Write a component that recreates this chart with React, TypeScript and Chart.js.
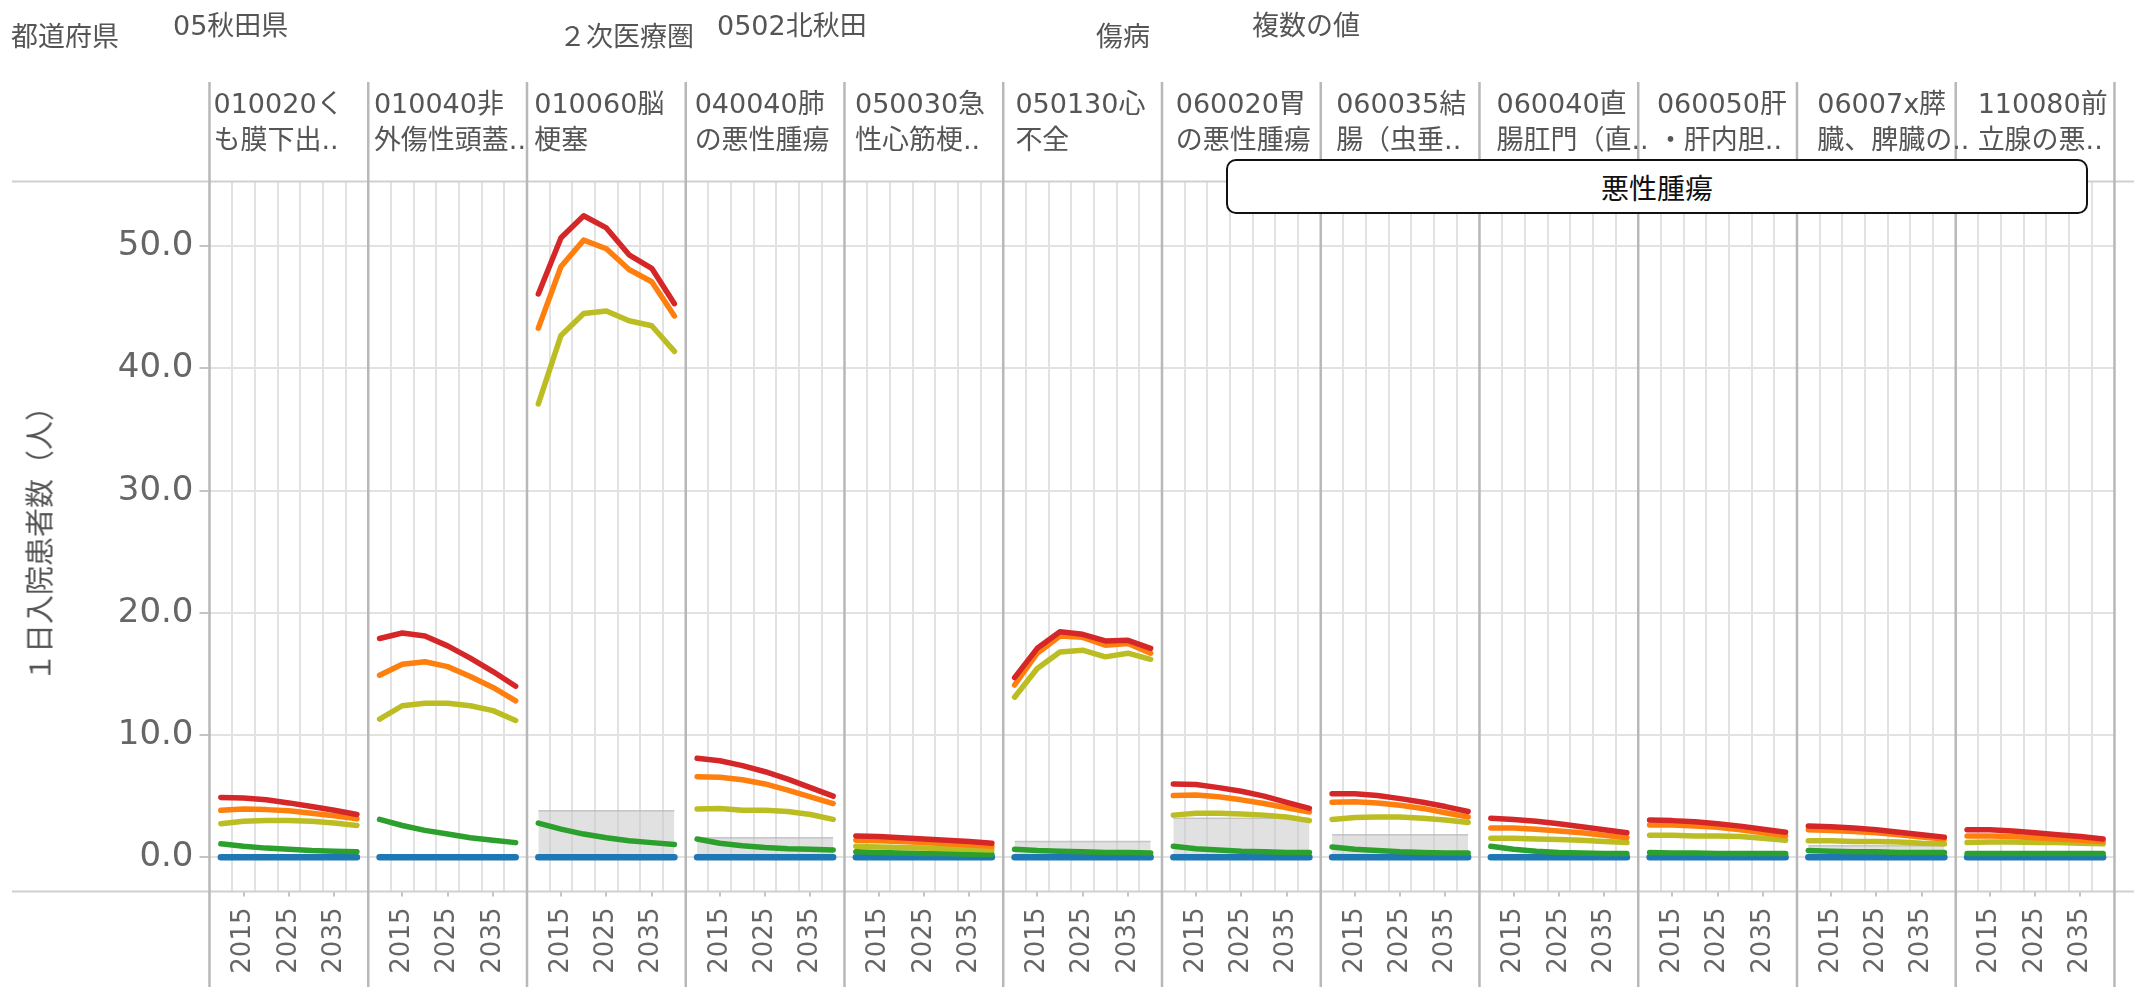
import React, { useEffect, useRef } from "react";
import { Chart, registerables } from "chart.js";

Chart.register(...registerables);

// ---------- data ----------
const years = [2010, 2015, 2020, 2025, 2030, 2035, 2040];
const labelYears = [2015, 2025, 2035];
const yTickValues = [0, 10, 20, 30, 40, 50];

const panelLine1 = [
  "010020く", "010040非", "010060脳", "040040肺", "050030急", "050130心",
  "060020胃", "060035結", "060040直", "060050肝", "06007x膵", "110080前",
];
const panelLine2 = [
  "も膜下出..", "外傷性頭蓋..", "梗塞", "の悪性腫瘍", "性心筋梗..", "不全",
  "の悪性腫瘍", "腸（虫垂..", "腸肛門（直..", "・肝内胆..", "臓、脾臓の..", "立腺の悪..",
];

const redValues = [
  [4.9, 4.85, 4.7, 4.45, 4.15, 3.85, 3.5],
  [17.9, 18.35, 18.1, 17.3, 16.3, 15.2, 14.0],
  [46.1, 50.7, 52.5, 51.5, 49.3, 48.2, 45.3],
  [8.1, 7.9, 7.5, 7.0, 6.4, 5.7, 5.0],
  [1.75, 1.7, 1.6, 1.5, 1.4, 1.3, 1.15],
  [14.7, 17.1, 18.45, 18.25, 17.7, 17.75, 17.1],
  [6.0, 5.95, 5.7, 5.4, 5.0, 4.5, 4.0],
  [5.2, 5.2, 5.05, 4.8, 4.5, 4.15, 3.75],
  [3.2, 3.1, 2.95, 2.75, 2.5, 2.25, 2.0],
  [3.05, 3.0, 2.9, 2.75, 2.55, 2.3, 2.05],
  [2.55, 2.5, 2.4, 2.25, 2.05, 1.85, 1.65],
  [2.25, 2.25, 2.15, 2.0, 1.85, 1.7, 1.5],
];
const orangeValues = [
  [3.85, 3.95, 3.9, 3.8, 3.6, 3.4, 3.15],
  [14.9, 15.8, 16.0, 15.6, 14.8, 13.9, 12.8],
  [43.3, 48.35, 50.5, 49.8, 48.1, 47.1, 44.3],
  [6.6, 6.55, 6.35, 6.0, 5.5, 4.95, 4.4],
  [1.4, 1.35, 1.3, 1.2, 1.1, 1.0, 0.9],
  [14.1, 16.7, 18.1, 18.0, 17.35, 17.5, 16.7],
  [5.05, 5.1, 4.95, 4.7, 4.4, 4.05, 3.7],
  [4.5, 4.55, 4.45, 4.25, 4.0, 3.65, 3.3],
  [2.4, 2.4, 2.3, 2.15, 2.0, 1.8, 1.6],
  [2.65, 2.65, 2.55, 2.45, 2.25, 2.0, 1.75],
  [2.25, 2.2, 2.1, 2.0, 1.85, 1.65, 1.5],
  [1.75, 1.75, 1.7, 1.6, 1.5, 1.4, 1.3],
];
const yellowValues = [
  [2.75, 2.95, 3.0, 3.0, 2.95, 2.8, 2.6],
  [11.3, 12.4, 12.6, 12.6, 12.4, 12.0, 11.2],
  [37.1, 42.7, 44.5, 44.7, 43.9, 43.5, 41.4],
  [3.95, 4.0, 3.85, 3.85, 3.75, 3.5, 3.1],
  [0.9, 0.85, 0.8, 0.75, 0.7, 0.65, 0.6],
  [13.1, 15.45, 16.8, 16.95, 16.4, 16.7, 16.2],
  [3.45, 3.6, 3.6, 3.55, 3.45, 3.3, 3.0],
  [3.1, 3.25, 3.3, 3.3, 3.2, 3.05, 2.85],
  [1.55, 1.55, 1.5, 1.45, 1.4, 1.3, 1.2],
  [1.8, 1.8, 1.75, 1.75, 1.7, 1.55, 1.4],
  [1.35, 1.35, 1.3, 1.3, 1.25, 1.15, 1.1],
  [1.2, 1.25, 1.25, 1.2, 1.2, 1.15, 1.1],
];
const greenValues = [
  [1.1, 0.9, 0.75, 0.65, 0.55, 0.5, 0.45],
  [3.1, 2.6, 2.2, 1.9, 1.6, 1.4, 1.2],
  [2.8, 2.3, 1.9, 1.6, 1.35, 1.2, 1.05],
  [1.5, 1.15, 0.95, 0.8, 0.7, 0.65, 0.6],
  [0.45, 0.4, 0.35, 0.3, 0.3, 0.25, 0.25],
  [0.65, 0.55, 0.5, 0.45, 0.4, 0.4, 0.35],
  [0.9, 0.7, 0.6, 0.5, 0.45, 0.4, 0.4],
  [0.85, 0.65, 0.55, 0.45, 0.4, 0.35, 0.35],
  [0.9, 0.65, 0.5, 0.4, 0.35, 0.3, 0.3],
  [0.4, 0.35, 0.35, 0.3, 0.3, 0.3, 0.3],
  [0.55, 0.5, 0.45, 0.45, 0.4, 0.4, 0.4],
  [0.3, 0.3, 0.3, 0.3, 0.3, 0.3, 0.3],
];
const blueValues = [
  [0, 0, 0, 0, 0, 0, 0],
  [0, 0, 0, 0, 0, 0, 0],
  [0, 0, 0, 0, 0, 0, 0],
  [0, 0, 0, 0, 0, 0, 0],
  [0, 0, 0, 0, 0, 0, 0],
  [0, 0, 0, 0, 0, 0, 0],
  [0, 0, 0, 0, 0, 0, 0],
  [0, 0, 0, 0, 0, 0, 0],
  [0, 0, 0, 0, 0, 0, 0],
  [0, 0, 0, 0, 0, 0, 0],
  [0, 0, 0, 0, 0, 0, 0],
  [0, 0, 0, 0, 0, 0, 0],
];
const bandTops: (number | null)[] = [null, null, 3.8, 1.6, null, 1.3, 3.2, 1.85, null, null, 0.95, null];

const headerItems = [
  { text: "都道府県", x: 11, y: 38 },
  { text: "05秋田県", x: 173, y: 27 },
  { text: "２次医療圏", x: 559, y: 38 },
  { text: "0502北秋田", x: 717, y: 27 },
  { text: "傷病", x: 1096, y: 38 },
  { text: "複数の値", x: 1252, y: 27 },
];
const yTitle = "１日入院患者数（人）";
const calloutText = "悪性腫瘍";

// ---------- layout constants ----------
const W = 2134;
const H = 987;
const SPAN = 35; // x units per panel (2007.5 .. 2042.5)
const YEAR0 = 2007.5;
const PLOT_LEFT = 209.5;
const PLOT_TOP = 181.5;
const PLOT_BOTTOM = 891.5;
const PANEL_W = (W - PLOT_LEFT) / panelLine1.length;
const FONT = '"DejaVu Sans", "Noto Sans CJK JP", sans-serif';

const COLORS = {
  red: "#d62728",
  orange: "#ff7f0e",
  yellow: "#bcbd22",
  green: "#2ca02c",
  blue: "#1f77b4",
};

function buildPoints(values: number[][]) {
  const pts: { x: number; y: number | null }[] = [];
  values.forEach((row, p) => {
    row.forEach((v, i) => pts.push({ x: p * SPAN + years[i] - YEAR0, y: v }));
    pts.push({ x: p * SPAN + SPAN - 1, y: null });
  });
  return pts;
}

function buildBand() {
  const pts: { x: number; y: number | null }[] = [];
  bandTops.forEach((t, p) => {
    if (t == null) return;
    pts.push({ x: p * SPAN + years[0] - YEAR0, y: t });
    pts.push({ x: p * SPAN + years[years.length - 1] - YEAR0, y: t });
    pts.push({ x: p * SPAN + SPAN - 1, y: null });
  });
  return pts;
}

const offsetOf = (v: number) => {
  const o = v - Math.floor(v / SPAN + 1e-9) * SPAN;
  return Math.round(o * 10) / 10;
};
const isGridTick = (v: number) => {
  const o = offsetOf(v);
  return o > 0.1 && Math.abs(o / 5 - Math.round(o / 5)) < 0.01;
};
const labelFor = (v: number) => {
  const o = offsetOf(v);
  const yr = YEAR0 + o;
  return labelYears.includes(Math.round(yr)) && Math.abs(yr - Math.round(yr)) < 0.01 ? String(Math.round(yr)) : "";
};

const framePlugin = {
  id: "frame",
  beforeDatasetsDraw(chart: any) {
    const ctx = chart.ctx;
    const xs = chart.scales.x;
    const area = chart.chartArea;
    ctx.save();
    ctx.strokeStyle = "#d0d0d0";
    ctx.lineWidth = 2;
    ctx.beginPath();
    ctx.moveTo(12, area.top);
    ctx.lineTo(chart.width, area.top);
    ctx.moveTo(12, area.bottom);
    ctx.lineTo(chart.width, area.bottom);
    ctx.stroke();
    ctx.strokeStyle = "#b8b8b8";
    ctx.lineWidth = 2.5;
    ctx.beginPath();
    for (let p = 0; p <= panelLine1.length; p++) {
      const x = xs.getPixelForValue(p * SPAN);
      ctx.moveTo(x, 82);
      ctx.lineTo(x, chart.height);
    }
    ctx.stroke();
    ctx.restore();
  },
};

function ChartCanvas() {
  const ref = useRef<HTMLCanvasElement | null>(null);
  useEffect(() => {
    if (!ref.current) return;
    const xTicks: number[] = [];
    for (let p = 0; p < panelLine1.length; p++) {
      for (let o = 5; o <= 30; o += 2.5) xTicks.push(p * SPAN + o);
    }
    const lineDs = (label: string, values: number[][], color: string, order: number, width: number) => ({
      label,
      data: buildPoints(values),
      borderColor: color,
      backgroundColor: color,
      borderWidth: width,
      pointRadius: 0,
      borderJoinStyle: "round" as const,
      borderCapStyle: "round" as const,
      spanGaps: false,
      fill: false,
      order,
    });
    const chart = new Chart(ref.current, {
      type: "line",
      data: {
        datasets: [
          lineDs("red", redValues, COLORS.red, 0, 5.5),
          lineDs("orange", orangeValues, COLORS.orange, 1, 5.5),
          lineDs("yellow", yellowValues, COLORS.yellow, 2, 5.5),
          lineDs("green", greenValues, COLORS.green, 3, 5.5),
          lineDs("blue", blueValues, COLORS.blue, 4, 6.5),
          {
            label: "band",
            data: buildBand(),
            borderColor: "rgba(170,170,170,0.6)",
            backgroundColor: "rgba(200,200,200,0.55)",
            borderWidth: 1.5,
            pointRadius: 0,
            spanGaps: false,
            fill: "origin",
            order: 10,
          } as any,
        ],
      },
      options: {
        animation: false,
        responsive: false,
        devicePixelRatio: 1,
        layout: { padding: { top: PLOT_TOP, left: 0, right: 0, bottom: 0 } },
        plugins: { legend: { display: false }, tooltip: { enabled: false } },
        events: [],
        scales: {
          x: {
            type: "linear",
            min: 0,
            max: SPAN * panelLine1.length,
            afterBuildTicks: (s: any) => {
              s.ticks = xTicks.map((v) => ({ value: v }));
            },
            afterFit: (s: any) => {
              s.height = H - PLOT_BOTTOM;
            },
            border: { display: false },
            grid: {
              color: (c: any) => (c.tick && isGridTick(c.tick.value) ? "#e2e2e2" : "rgba(0,0,0,0)"),
              lineWidth: 2,
              tickColor: (c: any) => (c.tick && labelFor(c.tick.value) ? "#c4c4c4" : "rgba(0,0,0,0)"),
              tickLength: 5,
              tickWidth: 2,
            },
            ticks: {
              autoSkip: false,
              maxRotation: 90,
              minRotation: 90,
              padding: 11,
              color: "#666",
              font: { family: FONT, size: 26 },
              callback: (v: any) => labelFor(Number(v)),
            },
          },
          y: {
            type: "linear",
            min: -2.8,
            max: 55.3,
            afterBuildTicks: (s: any) => {
              s.ticks = yTickValues.map((v) => ({ value: v }));
            },
            afterFit: (s: any) => {
              s.width = PLOT_LEFT;
            },
            border: { display: false },
            grid: {
              color: "#e2e2e2",
              lineWidth: 2,
              tickColor: "#c4c4c4",
              tickLength: 10,
            },
            ticks: {
              padding: 6,
              color: "#666",
              font: { family: FONT, size: 34 },
              callback: (v: any) => Number(v).toFixed(1),
            },
          },
        },
      },
      plugins: [framePlugin],
    } as any);
    return () => chart.destroy();
  }, []);
  return <canvas ref={ref} width={W} height={H} style={{ position: "absolute", left: 0, top: 0 }} />;
}

export default function App() {
  const textStyle: React.CSSProperties = {
    position: "absolute",
    fontFamily: FONT,
    fontSize: 27,
    lineHeight: "27px",
    color: "#555",
    whiteSpace: "nowrap",
  };
  return (
    <div style={{ position: "absolute", left: 0, top: 0, width: W, height: H, background: "#fff", overflow: "hidden" }}>
      <ChartCanvas />
      {headerItems.map((h, i) => (
        <div key={"h" + i} style={{ ...textStyle, left: h.x, top: h.y - 15 }}>
          {h.text}
        </div>
      ))}
      {panelLine1.map((t, i) => (
        <div
          key={"p" + i}
          style={{
            ...textStyle,
            left: PLOT_LEFT + i * PANEL_W + 4,
            top: 86,
            lineHeight: "35.5px",
            width: PANEL_W - 6,
            overflow: "hidden",
          }}
        >
          <div>{t}</div>
          <div>{panelLine2[i]}</div>
        </div>
      ))}
      <div
        style={{
          ...textStyle,
          fontSize: 29,
          lineHeight: "29px",
          left: 41,
          top: 537,
          transform: "translate(-50%, -50%) rotate(-90deg)",
        }}
      >
        {yTitle}
      </div>
      <div
        style={{
          position: "absolute",
          left: 1226,
          top: 159,
          width: 862,
          height: 55,
          boxSizing: "border-box",
          border: "2.5px solid #111",
          borderRadius: 10,
          background: "#fff",
          display: "flex",
          alignItems: "center",
          justifyContent: "center",
          fontFamily: '"Noto Sans CJK JP", sans-serif',
          fontSize: 28,
          color: "#111",
        }}
      >
        {calloutText}
      </div>
    </div>
  );
}
